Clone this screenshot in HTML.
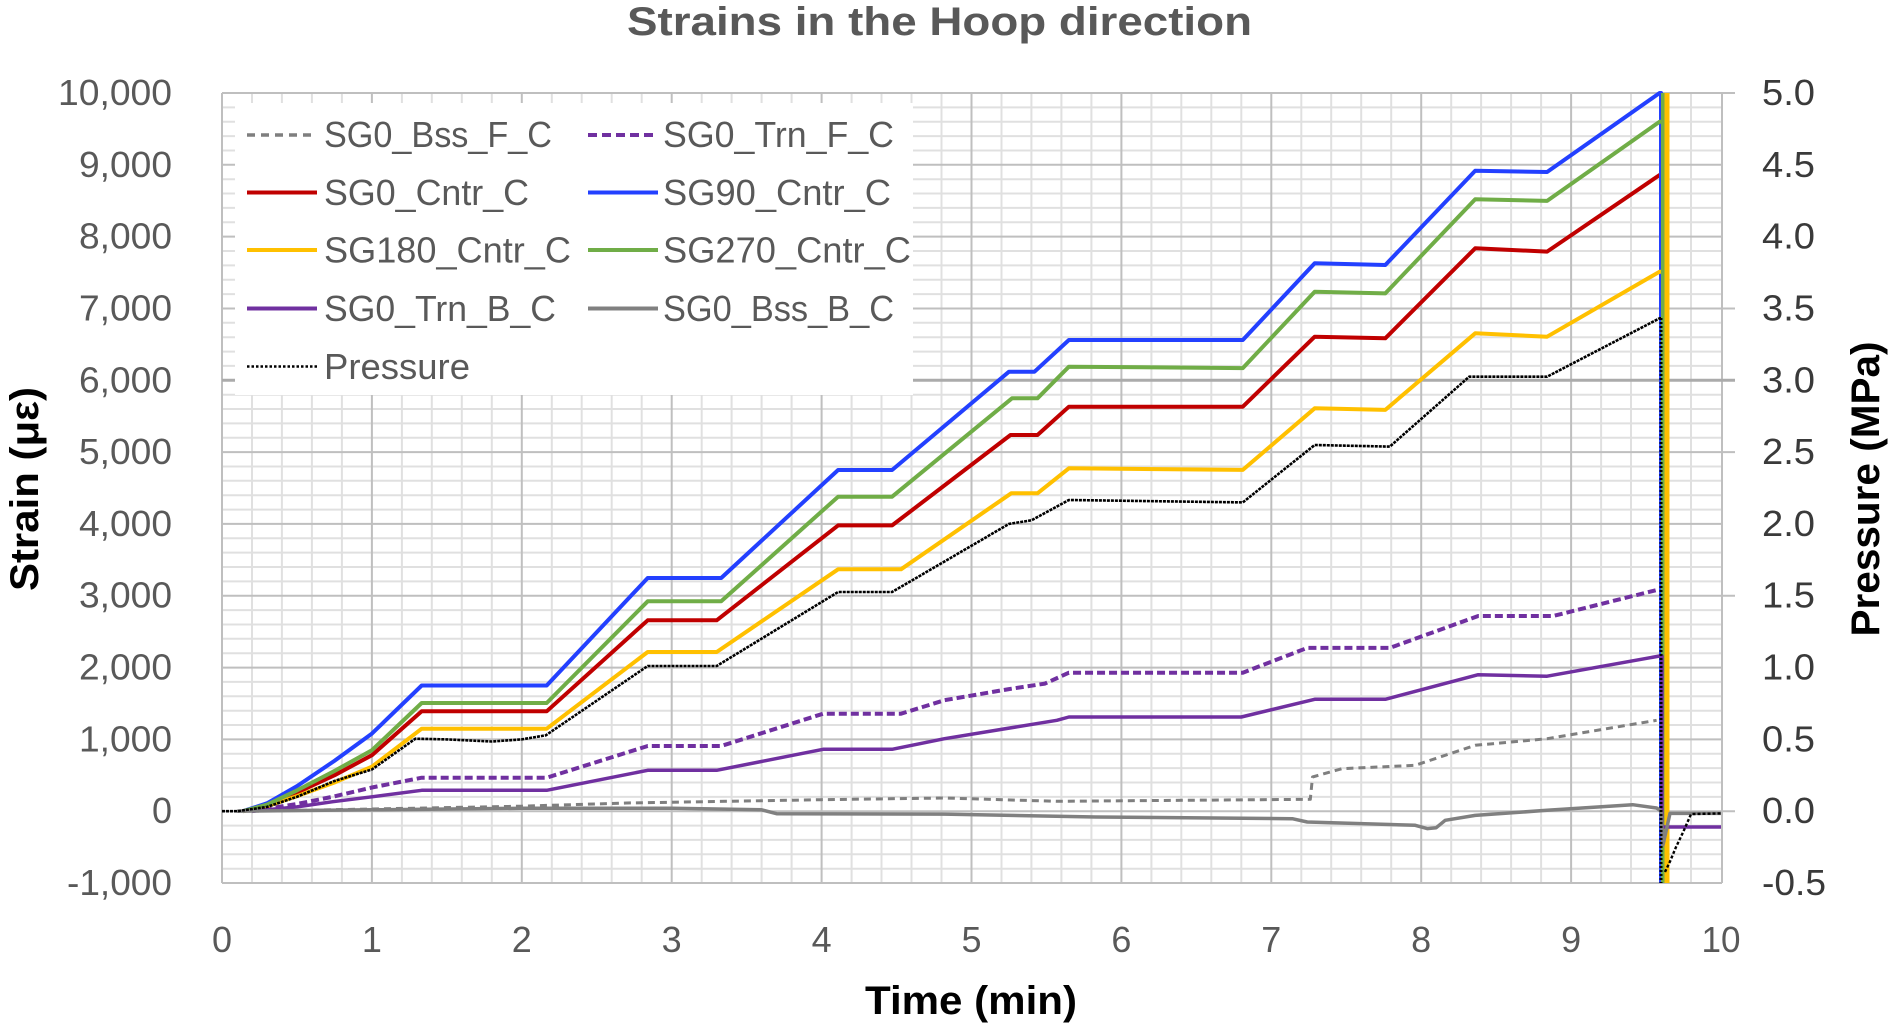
<!DOCTYPE html>
<html><head><meta charset="utf-8"><style>
html,body{margin:0;padding:0;background:#fff;}
svg{display:block;}
text{font-family:"Liberation Sans",Arial,sans-serif;}
</style></head><body>
<svg width="1890" height="1024" viewBox="0 0 1890 1024" xmlns="http://www.w3.org/2000/svg">
<rect x="0" y="0" width="1890" height="1024" fill="#fff"/>
<!-- minor grid -->
<path fill="none" stroke="#e0e0e0" stroke-width="2" d="
M252,93V883M281.9,93V883M311.9,93V883M341.9,93V883
M401.9,93V883M431.8,93V883M461.8,93V883M491.8,93V883
M551.8,93V883M581.7,93V883M611.7,93V883M641.7,93V883
M701.7,93V883M731.6,93V883M761.6,93V883M791.6,93V883
M851.6,93V883M881.5,93V883M911.5,93V883M941.5,93V883
M1001.5,93V883M1031.4,93V883M1061.4,93V883M1091.4,93V883
M1151.4,93V883M1181.3,93V883M1211.3,93V883M1241.3,93V883
M1301.3,93V883M1331.2,93V883M1361.2,93V883M1391.2,93V883
M1451.2,93V883M1481.1,93V883M1511.1,93V883M1541.1,93V883
M1601.1,93V883M1631,93V883M1661,93V883M1691,93V883
M222,107.4H1722M222,121.7H1722M222,136.1H1722M222,150.5H1722
M222,179.2H1722M222,193.5H1722M222,207.9H1722M222,222.3H1722
M222,251H1722M222,265.4H1722M222,279.7H1722M222,294.1H1722
M222,322.8H1722M222,337.2H1722M222,351.6H1722M222,365.9H1722
M222,394.7H1722M222,409H1722M222,423.4H1722M222,437.8H1722
M222,466.5H1722M222,480.8H1722M222,495.2H1722M222,509.6H1722
M222,538.3H1722M222,552.6H1722M222,567H1722M222,581.4H1722
M222,610.1H1722M222,624.5H1722M222,638.8H1722M222,653.2H1722
M222,681.9H1722M222,696.3H1722M222,710.7H1722M222,725H1722
M222,753.8H1722M222,768.1H1722M222,782.5H1722M222,796.9H1722
M222,825.6H1722M222,839.9H1722M222,854.3H1722M222,868.7H1722"/>
<!-- major grid -->
<path fill="none" stroke="#bfbfbf" stroke-width="2" d="
M222,93V883M371.9,93V883M521.8,93V883M671.7,93V883M821.6,93V883M971.5,93V883
M1121.4,93V883M1271.3,93V883M1421.2,93V883M1571.1,93V883M1722,93V883
M222,93H1735M222,164.8H1722M222,236.6H1722M222,308.5H1735M222,452.1H1735
M222,523.9H1722M222,595.7H1735M222,667.6H1722M222,739.4H1722M222,811.2H1735M222,883H1722"/>
<path fill="none" stroke="#ababab" stroke-width="3" d="M222,380.3H1735"/>

<!-- series -->
<g fill="none" stroke-linejoin="round" stroke-linecap="butt">
<path stroke="#7f7f7f" stroke-width="3" stroke-dasharray="7 5" d="M252,811.2 L371.9,809 L521.8,806.2 L626.7,803 L821.6,799.7 L944.5,798 L1056.9,801.3 L1310.3,799.3 L1312.5,777 L1341.8,768.7 L1415.2,765.3 L1475.2,745.3 L1547.1,738.7 L1656.6,720.3"/>
<path stroke="#7030a0" stroke-width="4" stroke-dasharray="8 4" d="M252,811.2 L297,804 L332.9,796.7 L371.9,787.5 L421.7,777.7 L546.7,777.7 L647.7,746 L721.2,746 L823.1,713.7 L901,713.7 L944.5,700.2 L1009,689.1 L1045,683.6 L1068.9,672.7 L1242.8,672.7 L1307.3,647.9 L1389.8,647.9 L1478.2,616 L1553.1,616 L1659.6,589.3"/>
<path stroke="#c00000" stroke-width="4" d="M243,811.2 L267,805.5 L297,792.5 L334.4,775.3 L371.9,755.2 L421.7,711.3 L546.7,711.3 L647.7,620.3 L716.7,620.3 L838.1,525.4 L892.1,525.4 L1010.5,435 L1037.5,435 L1068.9,406.7 L1242.8,406.7 L1314.7,336.7 L1385.3,338.3 L1475.2,248.3 L1547.1,251.6 L1659.6,175 L1661,175 L1661,883"/>
<path stroke="#2340ff" stroke-width="4" d="M243,811.2 L267,803.3 L297,786.1 L334.4,760.9 L371.9,733.6 L421.7,685.5 L546.7,685.5 L647.7,578 L721.2,578 L838.1,470 L892.1,470 L1009,371.7 L1034.5,371.7 L1068.9,340 L1242.8,340 L1314.7,263.3 L1385.3,265 L1475.2,170.7 L1547.1,172 L1659.6,93 L1661,93 L1661,883"/>
<path stroke="#ffc000" stroke-width="4" d="M243,811.2 L267,806.2 L297,796.1 L334.4,782.5 L371.9,766.7 L421.7,728.7 L546.7,728.7 L647.7,652 L716.7,652 L838.1,569.3 L901,569.3 L1011.2,493.3 L1037.5,493.3 L1068.9,468.3 L1242.8,469.9 L1314.7,408.3 L1385.3,409.9 L1475.2,333.3 L1547.1,336.7 L1659.6,271.7 L1666.5,271.7"/>
<path stroke="#70ad47" stroke-width="4" d="M243,811.2 L267,804.7 L297,790.4 L334.4,771 L371.9,750.2 L421.7,703 L546.7,703 L647.7,601.3 L721.2,601.3 L838.1,496.7 L892.1,496.7 L1012,398.3 L1037.5,398.3 L1068.9,366.7 L1242.8,368.1 L1314.7,291.7 L1385.3,293.4 L1475.2,199.3 L1547.1,200.9 L1659.6,121.7 L1663,121.7"/>
<path stroke="#70ad47" stroke-width="4" d="M1663,93V883"/>
<path stroke="#ffc000" stroke-width="5" d="M1667,93V883"/>
<path stroke="#7030a0" stroke-width="3.5" d="M252,811.2 L297,806.9 L332.9,801.7 L371.9,796.8 L421.7,790.3 L546.7,790.3 L647.7,770.3 L716.7,770.3 L823.1,749.3 L892.1,749.3 L944.5,738.7 L1056.9,720.3 L1068.9,717 L1241.3,717 L1314.7,699.3 L1385.3,699.3 L1478.2,674.7 L1547.1,676.2 L1659.6,656 L1662,656 L1662,827 L1721,827"/>
<path stroke="#808080" stroke-width="3.5" d="M237,811.2 L371.9,809.8 L521.8,808.3 L671.7,808.3 L761.6,809.8 L776.6,813.7 L944.5,814.1 L1095.9,817 L1292.3,818.7 L1307.3,822 L1415.2,825.3 L1427.2,828.6 L1436.2,827.7 L1445.2,820.3 L1475.2,815.4 L1547.1,810.3 L1632.6,804.7 L1656.6,808 L1661,811 L1663,845 L1670,813.4 L1721,813.4"/>
<path stroke="#000" stroke-width="2.6" stroke-dasharray="3 1" d="M222,811.2 L237,811.2 L267,806.9 L297,796.8 L334.4,781 L371.9,769.5 L415.4,738.7 L446.9,739.4 L491.8,741.5 L521.8,739.4 L545.8,735.3 L647.7,666 L716.7,666 L838.1,592 L892.1,592 L1009,523.9 L1031.5,520.3 L1068.9,500 L1242.8,502.4 L1314.7,445 L1389.8,446.6 L1469.2,376.7 L1547.1,376.7 L1659.6,318.3 L1661,318.3"/>
<path stroke="#000" stroke-width="3" stroke-dasharray="2 2" d="M1661,318V883"/>
<path stroke="#000" stroke-width="2.4" stroke-dasharray="3 2" d="M1665,872 L1670,861.5 L1676,847.1 L1683.5,831.3 L1691,814.1 L1721,813.4"/>
</g>

<!-- legend -->
<rect x="235" y="103" width="678" height="292" fill="#fff"/>
<g fill="none">
<path stroke="#7f7f7f" stroke-width="3.5" stroke-dasharray="8 6" d="M247,135H317"/>
<path stroke="#7030a0" stroke-width="4" stroke-dasharray="9 5" d="M588,135H658"/>
<path stroke="#c00000" stroke-width="4" d="M247,192.5H317"/>
<path stroke="#2340ff" stroke-width="4" d="M588,192.5H658"/>
<path stroke="#ffc000" stroke-width="4" d="M247,250H317"/>
<path stroke="#70ad47" stroke-width="4" d="M588,250H658"/>
<path stroke="#7030a0" stroke-width="4" d="M247,308.5H317"/>
<path stroke="#808080" stroke-width="4" d="M588,308.5H658"/>
<path stroke="#000" stroke-width="2.5" stroke-dasharray="2.5 2" d="M247,366.5H317"/>
</g>
<g font-size="36" fill="#595959">
<text x="324" y="147" textLength="228" lengthAdjust="spacingAndGlyphs">SG0_Bss_F_C</text>
<text x="663" y="147" textLength="231" lengthAdjust="spacingAndGlyphs">SG0_Trn_F_C</text>
<text x="324" y="205" textLength="205" lengthAdjust="spacingAndGlyphs">SG0_Cntr_C</text>
<text x="663" y="205" textLength="228" lengthAdjust="spacingAndGlyphs">SG90_Cntr_C</text>
<text x="324" y="262.5" textLength="247" lengthAdjust="spacingAndGlyphs">SG180_Cntr_C</text>
<text x="663" y="262.5" textLength="248" lengthAdjust="spacingAndGlyphs">SG270_Cntr_C</text>
<text x="324" y="321" textLength="232" lengthAdjust="spacingAndGlyphs">SG0_Trn_B_C</text>
<text x="663" y="321" textLength="231" lengthAdjust="spacingAndGlyphs">SG0_Bss_B_C</text>
<text x="324" y="379" textLength="146" lengthAdjust="spacingAndGlyphs">Pressure</text>
</g>

<!-- left tick labels -->
<g font-size="36" fill="#595959" text-anchor="end">
<text x="172" y="105" textLength="114" lengthAdjust="spacingAndGlyphs">10,000</text>
<text x="172" y="176.8" textLength="93" lengthAdjust="spacingAndGlyphs">9,000</text>
<text x="172" y="248.6" textLength="93" lengthAdjust="spacingAndGlyphs">8,000</text>
<text x="172" y="320.5" textLength="93" lengthAdjust="spacingAndGlyphs">7,000</text>
<text x="172" y="392.3" textLength="93" lengthAdjust="spacingAndGlyphs">6,000</text>
<text x="172" y="464.1" textLength="93" lengthAdjust="spacingAndGlyphs">5,000</text>
<text x="172" y="535.9" textLength="93" lengthAdjust="spacingAndGlyphs">4,000</text>
<text x="172" y="607.7" textLength="93" lengthAdjust="spacingAndGlyphs">3,000</text>
<text x="172" y="679.6" textLength="93" lengthAdjust="spacingAndGlyphs">2,000</text>
<text x="172" y="751.4" textLength="93" lengthAdjust="spacingAndGlyphs">1,000</text>
<text x="172" y="823.2">0</text>
<text x="172" y="895" textLength="105" lengthAdjust="spacingAndGlyphs">-1,000</text>
</g>

<!-- right tick labels -->
<g font-size="36" fill="#3a3a3a">
<text x="1762" y="105" textLength="53" lengthAdjust="spacingAndGlyphs">5.0</text>
<text x="1762" y="176.8" textLength="53" lengthAdjust="spacingAndGlyphs">4.5</text>
<text x="1762" y="248.6" textLength="53" lengthAdjust="spacingAndGlyphs">4.0</text>
<text x="1762" y="320.5" textLength="53" lengthAdjust="spacingAndGlyphs">3.5</text>
<text x="1762" y="392.3" textLength="53" lengthAdjust="spacingAndGlyphs">3.0</text>
<text x="1762" y="464.1" textLength="53" lengthAdjust="spacingAndGlyphs">2.5</text>
<text x="1762" y="535.9" textLength="53" lengthAdjust="spacingAndGlyphs">2.0</text>
<text x="1762" y="607.7" textLength="53" lengthAdjust="spacingAndGlyphs">1.5</text>
<text x="1762" y="679.6" textLength="53" lengthAdjust="spacingAndGlyphs">1.0</text>
<text x="1762" y="751.4" textLength="53" lengthAdjust="spacingAndGlyphs">0.5</text>
<text x="1762" y="823.2" textLength="53" lengthAdjust="spacingAndGlyphs">0.0</text>
<text x="1762" y="895" textLength="64" lengthAdjust="spacingAndGlyphs">-0.5</text>
</g>

<!-- x tick labels -->
<g font-size="36" fill="#595959" text-anchor="middle">
<text x="222" y="952">0</text>
<text x="371.9" y="952">1</text>
<text x="521.8" y="952">2</text>
<text x="671.7" y="952">3</text>
<text x="821.6" y="952">4</text>
<text x="971.5" y="952">5</text>
<text x="1121.4" y="952">6</text>
<text x="1271.3" y="952">7</text>
<text x="1421.2" y="952">8</text>
<text x="1571.1" y="952">9</text>
<text x="1721" y="952" textLength="39" lengthAdjust="spacingAndGlyphs">10</text>
</g>

<!-- titles -->
<text x="627" y="35" font-size="40" font-weight="bold" fill="#595959" textLength="625" lengthAdjust="spacingAndGlyphs">Strains in the Hoop direction</text>
<text x="865" y="1014" font-size="40" font-weight="bold" fill="#000" textLength="212" lengthAdjust="spacingAndGlyphs">Time (min)</text>
<text transform="translate(38,489) rotate(-90)" text-anchor="middle" font-size="40" font-weight="bold" fill="#000" textLength="204" lengthAdjust="spacingAndGlyphs">Strain (με)</text>
<text transform="translate(1879,489) rotate(-90)" text-anchor="middle" font-size="40" font-weight="bold" fill="#000" textLength="295" lengthAdjust="spacingAndGlyphs">Pressure (MPa)</text>
</svg>
</body></html>
